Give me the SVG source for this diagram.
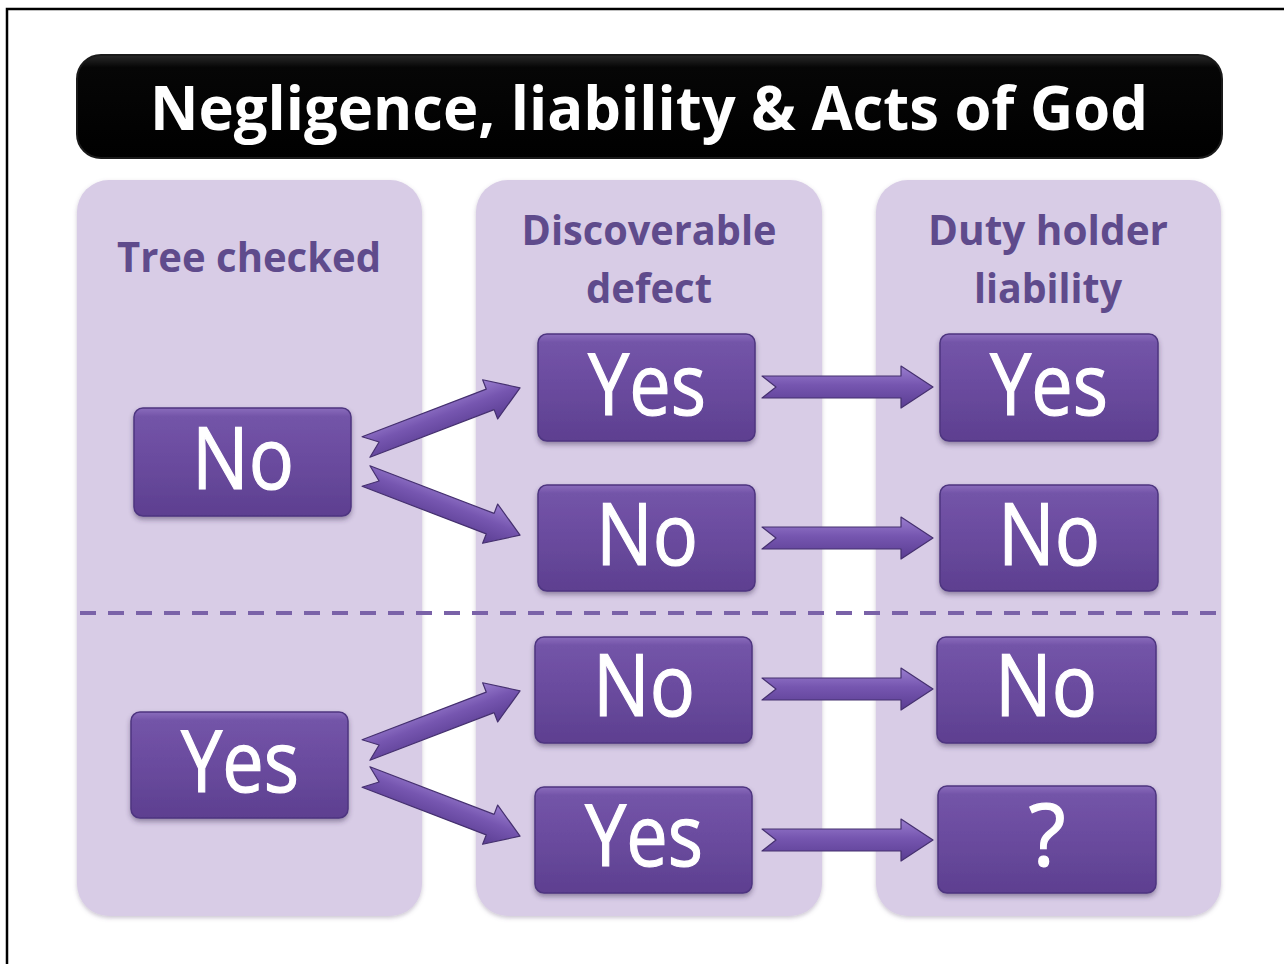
<svg xmlns="http://www.w3.org/2000/svg" width="1284" height="964" viewBox="0 0 1284 964">
<defs>
<linearGradient id="gTitle" x1="0" y1="0" x2="0" y2="1">
<stop offset="0" stop-color="#2a2a2a"/>
<stop offset="0.12" stop-color="#060606"/>
<stop offset="1" stop-color="#000"/>
</linearGradient>
<linearGradient id="gBox" x1="0" y1="0" x2="0" y2="1">
<stop offset="0" stop-color="#8a6cbc"/>
<stop offset="0.08" stop-color="#7354a8"/>
<stop offset="0.5" stop-color="#6a4b9e"/>
<stop offset="1" stop-color="#5d3f90"/>
</linearGradient>
<linearGradient id="gArrow" x1="0" y1="0" x2="0" y2="1">
<stop offset="0" stop-color="#9a7ecf"/>
<stop offset="0.45" stop-color="#7656b0"/>
<stop offset="1" stop-color="#5a3d92"/>
</linearGradient>
<filter id="shBox" x="-10%" y="-10%" width="120%" height="130%">
<feDropShadow dx="0" dy="3" stdDeviation="2.5" flood-color="#3a2a55" flood-opacity="0.45"/>
</filter>
<filter id="shCol" x="-5%" y="-5%" width="110%" height="110%">
<feDropShadow dx="0" dy="2" stdDeviation="2" flood-color="#6f6080" flood-opacity="0.35"/>
</filter>
<path id="arrowH" d="M0,-11 L139,-11 L139,-21 L171,0 L139,21 L139,11 L0,11 L14,0 Z"/>
<path id="arrowD" d="M0,-11 L133,-11 L133,-21 L165,0 L133,21 L133,11 L0,11 L14,0 Z"/>
</defs>
<style>
.col{fill:#d8cce6;filter:url(#shCol)}
.hdr{font-family:"Open Sans","Liberation Sans",sans-serif;font-weight:700;font-size:42px;fill:#5f4b8c;text-anchor:middle}
.box{fill:url(#gBox);stroke:#4e3580;stroke-width:1.5;filter:url(#shBox)}
.bt{font-family:"Open Sans","Liberation Sans",sans-serif;font-size:86px;fill:#ffffff;stroke:#ffffff;stroke-width:1.2;text-anchor:middle}
.arr{fill:url(#gArrow);stroke:#45306f;stroke-width:1.2;stroke-linejoin:round}
</style>
<rect x="0" y="0" width="1284" height="964" fill="#ffffff"/>
<path d="M7,964 V9 H1284" fill="none" stroke="#000" stroke-width="2.5"/>

<g id="title">
<rect x="77" y="55" width="1145" height="103" rx="24" fill="url(#gTitle)" stroke="#1a1a1a" stroke-width="2"/>
<text x="649" y="130" font-family="Open Sans, Liberation Sans, sans-serif" font-weight="700" font-size="60" fill="#ffffff" text-anchor="middle" textLength="998" lengthAdjust="spacingAndGlyphs">Negligence, liability &amp; Acts of God</text>
</g>

<g id="col-tree">
<rect class="col" x="77" y="180" width="345" height="736" rx="32"/>
<text class="hdr" x="249" y="272" textLength="264" lengthAdjust="spacingAndGlyphs">Tree checked</text>
</g>
<g id="col-defect">
<rect class="col" x="476" y="180" width="346" height="736" rx="32"/>
<text class="hdr" x="649" y="245" textLength="255" lengthAdjust="spacingAndGlyphs">Discoverable</text>
<text class="hdr" x="649" y="303" textLength="126" lengthAdjust="spacingAndGlyphs">defect</text>
</g>
<g id="col-liability">
<rect class="col" x="876" y="180" width="345" height="736" rx="32"/>
<text class="hdr" x="1048" y="245" textLength="240" lengthAdjust="spacingAndGlyphs">Duty holder</text>
<text class="hdr" x="1048" y="303" textLength="148" lengthAdjust="spacingAndGlyphs">liability</text>
</g>

<line id="divider" x1="80" y1="613" x2="1218" y2="613" stroke="#7a62a8" stroke-width="4" stroke-dasharray="16,12"/>

<g id="n-tree-no">
<rect class="box" x="134" y="408" width="217" height="108" rx="9"/>
<text class="bt" x="243" y="489" textLength="102" lengthAdjust="spacingAndGlyphs">No</text>
</g>
<g id="n-tree-yes">
<rect class="box" x="131" y="712" width="217" height="106" rx="9"/>
<text class="bt" x="240" y="792" textLength="118" lengthAdjust="spacingAndGlyphs">Yes</text>
</g>
<g id="n-def-yes1">
<rect class="box" x="538" y="334" width="217" height="107" rx="9"/>
<text class="bt" x="647" y="415" textLength="118" lengthAdjust="spacingAndGlyphs">Yes</text>
</g>
<g id="n-def-no1">
<rect class="box" x="538" y="485" width="217" height="106" rx="9"/>
<text class="bt" x="647" y="565" textLength="102" lengthAdjust="spacingAndGlyphs">No</text>
</g>
<g id="n-def-no2">
<rect class="box" x="535" y="637" width="217" height="106" rx="9"/>
<text class="bt" x="644" y="716" textLength="102" lengthAdjust="spacingAndGlyphs">No</text>
</g>
<g id="n-def-yes2">
<rect class="box" x="535" y="787" width="217" height="106" rx="9"/>
<text class="bt" x="644" y="866" textLength="118" lengthAdjust="spacingAndGlyphs">Yes</text>
</g>
<g id="n-lia-yes">
<rect class="box" x="940" y="334" width="218" height="107" rx="9"/>
<text class="bt" x="1049" y="415" textLength="118" lengthAdjust="spacingAndGlyphs">Yes</text>
</g>
<g id="n-lia-no1">
<rect class="box" x="940" y="485" width="218" height="106" rx="9"/>
<text class="bt" x="1049" y="565" textLength="102" lengthAdjust="spacingAndGlyphs">No</text>
</g>
<g id="n-lia-no2">
<rect class="box" x="937" y="637" width="219" height="106" rx="9"/>
<text class="bt" x="1046" y="716" textLength="102" lengthAdjust="spacingAndGlyphs">No</text>
</g>
<g id="n-lia-q">
<rect class="box" x="938" y="786" width="218" height="107" rx="9"/>
<text class="bt" x="1047" y="866">?</text>
</g>

<g id="connectors">
<use href="#arrowD" class="arr" transform="translate(366,447) rotate(-21)"/>
<use href="#arrowD" class="arr" transform="translate(366,476) rotate(21)"/>
<use href="#arrowD" class="arr" transform="translate(366,750) rotate(-21)"/>
<use href="#arrowD" class="arr" transform="translate(366,777) rotate(21)"/>
<use href="#arrowH" class="arr" transform="translate(762,387)"/>
<use href="#arrowH" class="arr" transform="translate(762,538)"/>
<use href="#arrowH" class="arr" transform="translate(762,689)"/>
<use href="#arrowH" class="arr" transform="translate(762,840)"/>
</g>
</svg>
